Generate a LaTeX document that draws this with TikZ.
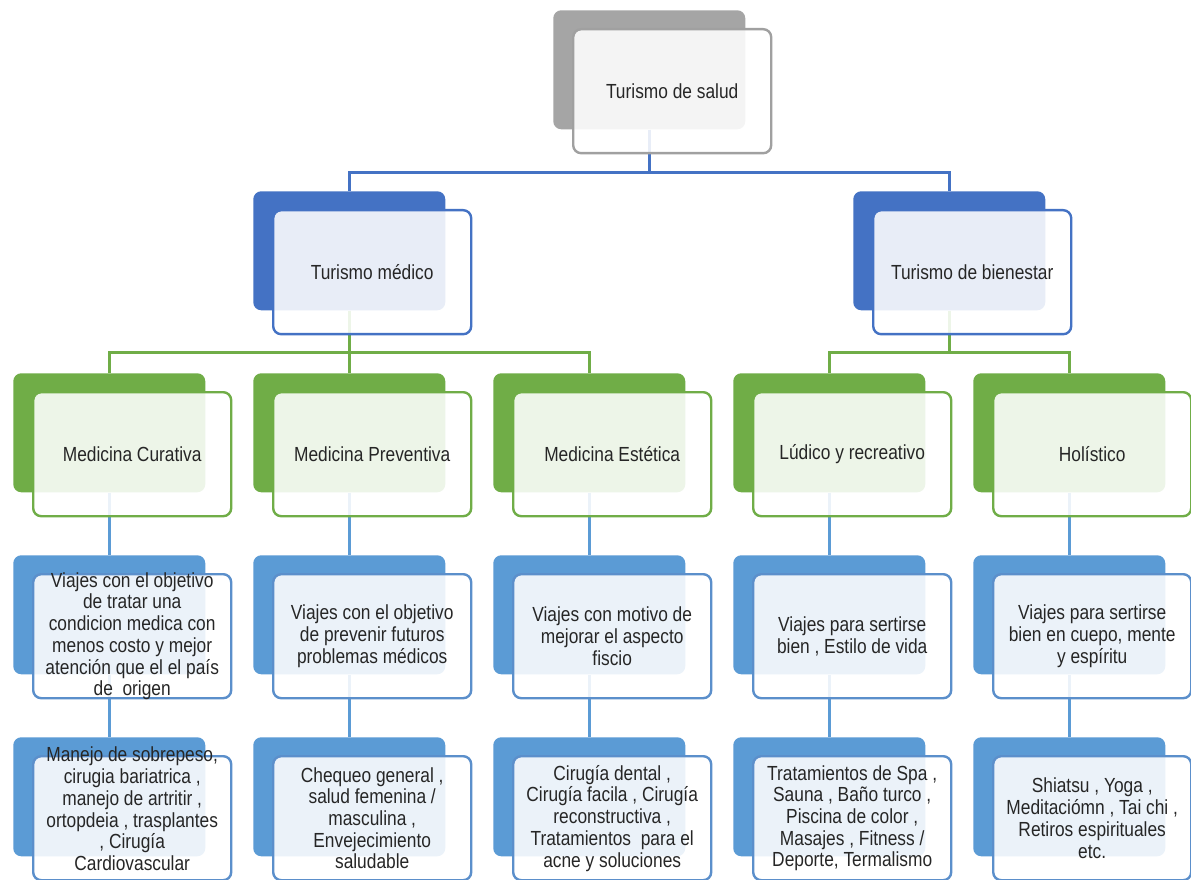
\documentclass[tikz,border=0pt]{standalone}
\usepackage{fontspec}
\setmainfont[FakeStretch=0.85]{Liberation Sans}
\usetikzlibrary{backgrounds}
\definecolor{cgray}{HTML}{A5A5A5}
\definecolor{cgrayb}{HTML}{A0A0A0}
\definecolor{cblue}{HTML}{4472C4}
\definecolor{cgreen}{HTML}{70AD47}
\definecolor{clblue}{HTML}{5B9BD5}
\definecolor{clblueb}{HTML}{5B8FCB}
\definecolor{ctext}{HTML}{262626}
\newcommand\smartpair[7][]{%
  \node[backbox, fill=#5] (#2b) at (#3,#4) {};
  \node[frontbox, draw=#6] (#2f) at (#3+19,#4+18) {};
  \node[lbl,#1] (#2t) at (#2f.center) {#7};
}
\begin{document}
\begin{tikzpicture}[x=0.75pt,y=-0.75pt,
  backbox/.style={rectangle, rounded corners=6pt, minimum width=144pt, minimum height=89.25pt, anchor=north west, inner sep=0pt, draw=none},
  frontbox/.style={rectangle, rounded corners=6pt, minimum width=148.5pt, minimum height=93pt, anchor=north west, inner sep=0pt, line width=1.8pt, fill=white, fill opacity=0.88},
  lbl/.style={align=center, font=\fontsize{15.3}{16.3}\selectfont, text=ctext, inner sep=0pt},
  conn/.style={line width=2pt}
]
\useasboundingbox (0,0) rectangle (1191,880);
\clip (0,0) rectangle (1191,880);

% level 1
\smartpair{n1}{553}{10}{cgray}{cgrayb}{Turismo de salud}
% level 2
\smartpair{n2a}{253}{191}{cblue}{cblue}{Turismo médico}
\smartpair{n2b}{853}{191}{cblue}{cblue}{Turismo de bienestar}
% level 3
\smartpair{n3a}{13}{373}{cgreen}{cgreen}{Medicina Curativa}
\smartpair{n3b}{253}{373}{cgreen}{cgreen}{Medicina Preventiva}
\smartpair{n3c}{493}{373}{cgreen}{cgreen}{Medicina Estética}
\smartpair{n3d}{733}{373}{cgreen}{cgreen}{Lúdico y recreativo}
\smartpair{n3e}{973}{373}{cgreen}{cgreen}{Holístico}
% level 4
\smartpair{n4a}{13}{555}{clblue}{clblueb}{Viajes con el objetivo\\de tratar una\\condicion medica con\\menos costo y mejor\\atención que el el país\\de\ \ origen}
\smartpair{n4b}{253}{555}{clblue}{clblueb}{Viajes con el objetivo\\de prevenir futuros\\problemas médicos}
\smartpair{n4c}{493}{555}{clblue}{clblueb}{Viajes con motivo de\\mejorar el aspecto\\fiscio}
\smartpair{n4d}{733}{555}{clblue}{clblueb}{Viajes para sertirse\\bien , Estilo de vida}
\smartpair{n4e}{973}{555}{clblue}{clblueb}{Viajes para sertirse\\bien en cuepo, mente\\y espíritu}
% level 5
\smartpair[yshift=7pt]{n5a}{13}{737}{clblue}{clblueb}{Manejo de sobrepeso,\\cirugia bariatrica ,\\manejo de artritir ,\\ortopdeia , trasplantes\\, Cirugía\\Cardiovascular}
\smartpair{n5b}{253}{737}{clblue}{clblueb}{Chequeo general ,\\salud femenina /\\masculina ,\\Envejecimiento\\saludable}
\smartpair{n5c}{493}{737}{clblue}{clblueb}{Cirugía dental ,\\Cirugía facila , Cirugía\\reconstructiva ,\\Tratamientos\ \ para el\\acne y soluciones}
\smartpair{n5d}{733}{737}{clblue}{clblueb}{Tratamientos de Spa ,\\Sauna , Baño turco ,\\Piscina de color ,\\Masajes , Fitness /\\Deporte, Termalismo}
\smartpair{n5e}{973}{737}{clblue}{clblueb}{Shiatsu , Yoga ,\\Meditaciómn , Tai chi ,\\Retiros espirituales\\etc.}

\begin{pgfonlayer}{background}
\fill[white] (0,0) rectangle (1191,880);
\draw[conn, cblue] (n1b.south) -- ++(0,43) -| (n2ab.north);
\draw[conn, cblue] (n1b.south) -- ++(0,43) -| (n2bb.north);
\draw[conn, cgreen] (n2ab.south) -- ++(0,42) -| (n3ab.north);
\draw[conn, cgreen] (n2ab.south) -- ++(0,42) -| (n3bb.north);
\draw[conn, cgreen] (n2ab.south) -- ++(0,42) -| (n3cb.north);
\draw[conn, cgreen] (n2bb.south) -- ++(0,42) -| (n3db.north);
\draw[conn, cgreen] (n2bb.south) -- ++(0,42) -| (n3eb.north);
\foreach \c in {a,b,c,d,e}{
  \draw[conn, clblue] (n3\c b.south) -- (n4\c b.north);
  \draw[conn, clblue] (n4\c b.south) -- (n5\c b.north);
}
\end{pgfonlayer}
\end{tikzpicture}
\end{document}
